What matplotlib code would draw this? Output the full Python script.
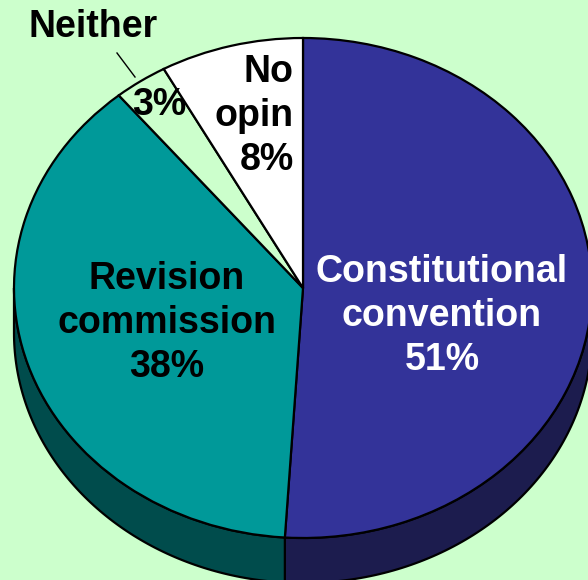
import matplotlib
matplotlib.use("Agg")
import matplotlib.pyplot as plt
from matplotlib.patches import Polygon
import numpy as np

plt.rcParams['font.family'] = ['Liberation Sans', 'DejaVu Sans']

# data
labels = ['Constitutional\nconvention', 'Revision\ncommission', 'Neither', 'No\nopin']
values = [51, 38, 3, 8]
colors = ['#333399', '#009999', '#CCFFCC', '#FFFFFF']
side_colors = ['#1C1C4E', '#004C4C', '#7FA07F', '#A0A0A0']
bg = '#CCFFCC'

W, H = 588, 580
fig = plt.figure(figsize=(W / 100, H / 100), dpi=100, facecolor=bg)
ax = fig.add_axes([0, 0, 1, 1])
ax.set_facecolor(bg)

# pie geometry in pixels (ellipse centre and radii)
cx, cy, rx, ry = 303, 288, 289, 250
depth = 45 / ry

# side band (front half only), drawn under the top face
angles = 90 - np.cumsum([0] + values) * 3.6
for i in range(len(values)):
    a1, a0 = angles[i], angles[i + 1]   # clockwise: a1 > a0
    # front half is math angles in [-180, 0]
    s, e = max(a0, -180), min(a1, 0)
    if s >= e:
        continue
    t = np.radians(np.linspace(s, e, 100))
    top = np.column_stack([np.cos(t), np.sin(t)])
    bot = top[::-1] - [0, depth]
    ax.add_patch(Polygon(np.vstack([top, bot]), closed=True,
                         facecolor=side_colors[i], edgecolor='black',
                         linewidth=1.6, zorder=1))

ax.pie(values, colors=colors, startangle=90, counterclock=False,
       wedgeprops=dict(edgecolor='black', linewidth=1.6, zorder=2))
ax.set_aspect('auto')
ax.set_xlim(-cx / rx, (W - cx) / rx)
ax.set_ylim((cy - H) / ry, cy / ry)
ax.axis('off')


def p(x, y):
    return x / W, 1 - y / H


tk = dict(transform=fig.transFigure, fontsize=27, fontweight='bold',
          linespacing=1.3, zorder=5)
fig.text(*p(442, 316), labels[0] + '\n%d%%' % values[0], color='white',
         ha='center', va='center', **tk)
fig.text(*p(167, 323), labels[1] + '\n%d%%' % values[1], color='black',
         ha='center', va='center', **tk)
fig.text(*p(294, 116), labels[3] + '\n%d%%' % values[3], color='black',
         ha='right', va='center', multialignment='right', **tk)
fig.text(*p(159, 105), '%d%%' % values[2], color='black',
         ha='center', va='center', **tk)
fig.text(*p(93, 27), labels[2], color='black',
         ha='center', va='center', **tk)
fig.add_artist(plt.Line2D([117 / W, 135 / W], [1 - 53 / H, 1 - 77 / H],
                          transform=fig.transFigure, color='black', lw=1))

fig.savefig('out.png', dpi=100, facecolor=bg)
